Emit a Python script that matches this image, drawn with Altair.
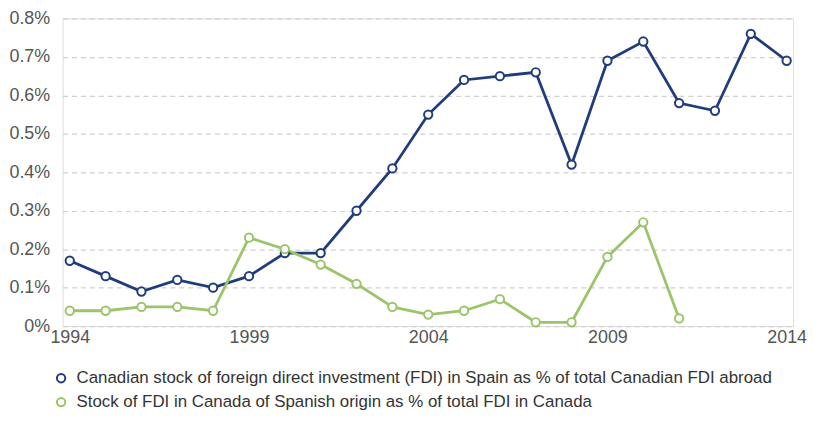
import altair as alt
import pandas as pd

years = list(range(1994, 2015))
canada_in_spain = [0.17, 0.13, 0.09, 0.12, 0.10, 0.13, 0.19, 0.19, 0.30, 0.41, 0.55,
                   0.64, 0.65, 0.66, 0.42, 0.69, 0.74, 0.58, 0.56, 0.76, 0.69]
spain_in_canada = [0.04, 0.04, 0.05, 0.05, 0.04, 0.23, 0.20, 0.16, 0.11, 0.05, 0.03,
                   0.04, 0.07, 0.01, 0.01, 0.18, 0.27, 0.02]
series_names = [
    "Canadian stock of foreign direct investment (FDI) in Spain as % of total Canadian FDI abroad",
    "Stock of FDI in Canada of Spanish origin as % of total FDI in Canada",
]
colors = ["#213c7c", "#9bc46b"]
x_ticks = [1994, 1999, 2004, 2009, 2014]
y_ticks = [0, 0.001, 0.002, 0.003, 0.004, 0.005, 0.006, 0.007, 0.008]

rows = []
for y, v in zip(years, canada_in_spain):
    rows.append({"year": y, "value": v / 100, "series": series_names[0]})
for y, v in zip(years, spain_in_canada):
    rows.append({"year": y, "value": v / 100, "series": series_names[1]})
df = pd.DataFrame(rows)

W, H = 736, 310

chart = alt.Chart(df).mark_line(
    strokeWidth=2.8,
    point=alt.OverlayMarkDef(filled=False, fill="white", size=70, strokeWidth=2),
).encode(
    x=alt.X("year:Q",
            scale=alt.Scale(domain=[1993.8, 2014.18], nice=False, zero=False),
            axis=alt.Axis(values=x_ticks, format="d", title=None, grid=False,
                          domain=False, ticks=False, labelFontSize=18,
                          labelColor="#555555", labelPadding=3,
                          labelFont="Liberation Sans")),
    y=alt.Y("value:Q",
            scale=alt.Scale(domain=[0, 0.008], nice=False),
            axis=alt.Axis(values=y_ticks, format=".1~%", title=None,
                          domain=False, ticks=False, labelFontSize=18,
                          labelColor="#555555", labelPadding=13,
                          labelFont="Liberation Sans",
                          gridDash=[5, 4], gridColor="#d0d0d0", gridWidth=1.2)),
    color=alt.Color("series:N",
                    scale=alt.Scale(domain=series_names, range=colors),
                    legend=alt.Legend(title=None, orient="none", legendX=-10,
                                      legendY=H + 44, direction="vertical",
                                      symbolType="circle", symbolFillColor="white",
                                      symbolStrokeWidth=2, symbolSize=70,
                                      labelFontSize=17, labelColor="#333333",
                                      labelFont="Liberation Sans", rowPadding=6,
                                      labelOffset=7, labelLimit=0, padding=0)),
    order="year:Q",
).properties(width=W, height=H, padding=0).configure_view(stroke=None).configure(
    background="white"
)

chart.save("out.html", embed_options={"renderer": "svg", "actions": False})
